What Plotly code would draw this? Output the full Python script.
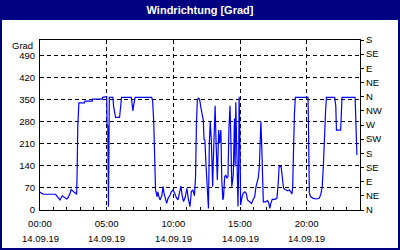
import plotly.graph_objects as go

# ---- data ----
times = ["00:00","00:10","00:20","00:30","00:40","01:10","01:30","01:40","01:50","02:00",
         "02:05","02:15","02:20","02:30","02:45","02:47","02:50","02:55","03:20","03:22",
         "03:55","03:57","04:40","04:42","05:00","05:02","05:04","05:05","05:08","05:12",
         "05:28","05:31","05:36","05:40","05:58","06:03","06:07","06:51","06:54","06:58",
         "07:02","07:08","08:23","08:27","08:32","08:35","08:38","08:40","08:47","08:50",
         "08:54","09:00","09:08","09:14","09:18","09:24","09:30","09:36","09:44","09:51",
         "09:59","10:06","10:13","10:21","10:28","10:34","10:40","10:46","10:54","11:01",
         "11:07","11:15","11:21","11:28","11:35","11:40","11:44","11:48","11:52","11:58",
         "12:04","12:09","12:15","12:18","12:22","12:27","12:31","12:35","12:38","12:42",
         "12:46","12:51","12:54","12:57","13:00","13:04","13:08","13:12","13:15","13:18",
         "13:24","13:28","13:34","13:38","13:43","13:46","13:51","13:56","14:01","14:06",
         "14:10","14:15","14:19","14:23","14:27","14:30","14:35","14:38","14:41","14:44",
         "14:48","14:51","14:54","14:56","14:59","15:00","15:03","15:08","15:14","15:22",
         "15:28","15:34","15:43","15:52","15:58","16:06","16:12","16:18","16:22","16:27",
         "16:30","16:34","16:37","16:40","16:45","16:55","17:04","17:10","17:14","17:19",
         "17:25","17:37","17:46","17:52","17:56","18:05","18:10","18:16","18:25","18:35",
         "18:42","18:48","18:54","18:57","19:00","19:05","19:09","20:06","20:08","20:11",
         "20:12","20:18","20:30","20:45","20:56","21:03","21:10","21:15","21:19","21:25",
         "21:29","22:06","22:11","22:14","22:33","22:36","22:39","23:38","23:40","23:42",
         "23:44","23:46"]
values = [57, 52, 50, 51, 50, 50, 32, 45, 40, 35,
          38, 52, 65, 58, 50, 120, 265, 340, 340, 346,
          346, 352, 352, 358, 360, 268, 120, 270, 10, 358,
          358, 330, 300, 294, 294, 330, 358, 358, 330, 315,
          335, 358, 358, 345, 275, 170, 95, 64, 42, 58,
          45, 32, 45, 74, 53, 37, 21, 37, 45, 58,
          64, 53, 40, 32, 53, 76, 45, 27, 42, 69,
          37, 11, 58, 64, 45, 106, 275, 349, 355, 352,
          325, 305, 285, 225, 222, 143, 74, 42, 5, 212,
          281, 222, 122, 74, 159, 254, 331, 222, 122, 95,
          254, 212, 254, 95, 32, 42, 106, 111, 101, 106,
          254, 331, 222, 74, 95, 117, 291, 138, 342, 222,
          74, 11, 138, 360, 265, 117, 16, 37, 53, 58,
          53, 32, 26, 21, 32, 42, 74, 95, 101, 138,
          245, 281, 222, 117, 26, 26, 30, 21, 5, 21,
          34, 34, 37, 85, 138, 138, 106, 69, 64, 61,
          64, 55, 51, 74, 201, 307, 358, 358, 275, 138,
          53, 42, 37, 35, 37, 48, 74, 138, 222, 313,
          358, 358, 331, 254, 254, 331, 358, 358, 300, 230,
          210, 175]

day = "2019-09-14"
next_day = "2019-09-15"
x_tick_times = ["00:00", "05:00", "10:00", "15:00", "20:00"]
date_label = "14.09.19"
y_ticks = [0, 70, 140, 210, 280, 350, 420, 490]
compass_labels = ["N", "NE", "E", "SE", "S", "SW", "W", "NW", "N", "NE", "E", "SE", "S"]
compass_values = [0, 45, 90, 135, 180, 225, 270, 315, 360, 405, 450, 495, 540]
title_text = "Windrichtung [Grad]"
unit_label = "Grad"

# ---- figure ----
FONT = "Liberation Sans"
NAVY = "#000080"
x = [f"{day} {t}" for t in times]
tickx = [f"{day} {t}" for t in x_tick_times]

fig = go.Figure()
fig.add_trace(go.Scatter(x=x, y=values, mode="lines",
                         line=dict(color="#0000FF", width=1.2),
                         showlegend=False, hoverinfo="skip"))
fig.add_trace(go.Scatter(x=[x[0]], y=[0], yaxis="y2", mode="markers",
                         marker=dict(opacity=0), showlegend=False, hoverinfo="skip"))

tickfont = dict(family=FONT, size=9.5, color="black")
grid = dict(showgrid=True, gridcolor="black", gridwidth=1, griddash="4px,3px")

fig.update_layout(
    width=400, height=250,
    margin=dict(l=40, r=40, t=40, b=40),
    paper_bgcolor="white", plot_bgcolor="white",
    title=dict(text=f"<b>{title_text}</b>", x=0.5, xanchor="center",
               y=1 - 10 / 250, yanchor="middle",
               font=dict(family=FONT, size=11, color="white")),
    xaxis=dict(type="date", range=[f"{day} 00:00", f"{next_day} 00:00"],
               tickmode="array", tickvals=tickx, ticktext=x_tick_times,
               ticks="inside", ticklen=3, tickcolor="black", ticklabelstandoff=5,
               minor=dict(tickmode="linear", tick0=f"{day} 00:00", dtick=3600000,
                          ticks="inside", ticklen=3, tickcolor="black", showgrid=False),
               showline=True, linecolor="black", linewidth=1, mirror=True,
               zeroline=False, tickfont=tickfont, **grid),
    yaxis=dict(range=[0, 540], tickmode="array", tickvals=y_ticks,
               ticks="", showline=True, linecolor="black", linewidth=1, mirror=True,
               zeroline=False, tickfont=tickfont, ticklabelstandoff=2, **grid),
    yaxis2=dict(overlaying="y", side="right", range=[0, 540], tickmode="array",
                tickvals=compass_values, ticktext=compass_labels,
                ticks="outside", ticklen=3, tickcolor="black",
                showline=True, linecolor="black", linewidth=1,
                showgrid=False, zeroline=False, tickfont=tickfont),
)

# date row under the time labels
for tx in tickx:
    fig.add_annotation(x=tx, xref="x", y=(210 - 238) / 170, yref="paper",
                       text=date_label, showarrow=False, xanchor="center",
                       yanchor="middle", font=tickfont)

# unit label above the left axis
fig.add_annotation(x=-5 / 320, xref="paper", y=(210 - 45) / 170, yref="paper",
                   text=unit_label, showarrow=False, xanchor="right",
                   yanchor="middle", font=tickfont)

# title bar and frame
px = lambda p: (p - 40) / 320
py = lambda p: (210 - p) / 170
fig.add_shape(type="rect", xref="paper", yref="paper", layer="below",
              x0=px(0), x1=px(400), y0=py(20), y1=py(0),
              fillcolor=NAVY, line=dict(width=0))
for (a, b, c, d) in [(0, 2, 0, 250), (398, 400, 0, 250), (0, 400, 248, 250)]:
    fig.add_shape(type="rect", xref="paper", yref="paper", layer="below",
                  x0=px(a), x1=px(b), y0=py(d), y1=py(c),
                  fillcolor=NAVY, line=dict(width=0))

fig.write_html("out.html")
